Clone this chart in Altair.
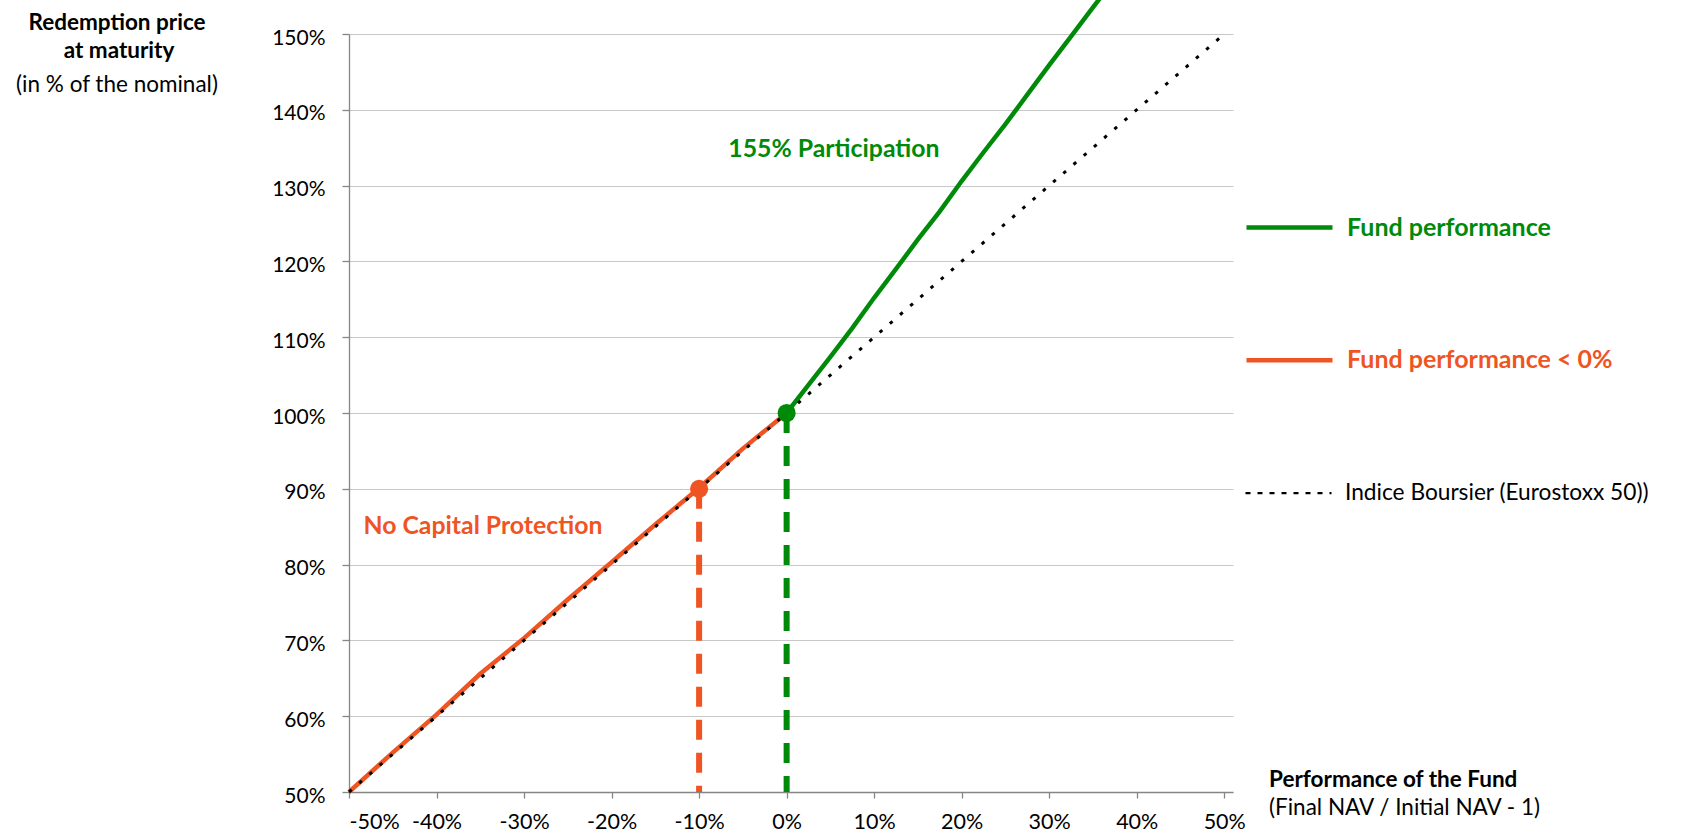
import altair as alt
import pandas as pd

# ---------------- data ----------------
x_ticks = [-50, -40, -30, -20, -10, 0, 10, 20, 30, 40, 50]
y_ticks = [50, 60, 70, 80, 90, 100, 110, 120, 130, 140, 150]

index_name = "Indice Boursier (Eurostoxx 50))"
index_x = [-50, 50]
index_y = [50, 150]

neg_name = "Fund performance < 0%"
neg_x = [-50, -45, -40, -35, -30, -25, -20, -15, -10, -5, 0]
neg_y = [50, 55.2, 60.2, 65.6, 70.3, 75.4, 80.3, 85.3, 90.1, 95.3, 100]

pos_name = "Fund performance"
pos_x = [0, 2.5, 5, 7.5, 10, 12.5, 15, 17.5, 20, 22.5, 25, 27.5, 30, 32.5, 35, 37.5]
pos_y = [100, 103.7, 107.4, 111.2, 115.2, 119.0, 122.9, 126.6, 130.6, 134.4,
         138.1, 142.0, 145.9, 149.7, 153.5, 157.3]

marker_x = [-10, 0]
marker_y = [90, 100]
floor_value = 50

annotation_texts = ["155% Participation", "No Capital Protection"]
annotation_x = [5.4, -34.7]
annotation_y = [134.7, 84.9]

y_title_lines = ["Redemption price", "at maturity", "(in % of the nominal)"]
x_title_lines = ["Performance of the Fund", "(Final NAV / Initial NAV - 1)"]

# ---------------- styles ----------------
GREEN = "#008A0A"
ORANGE = "#EF5523"
FONT = "Lato"
W, H = 884, 758

xs = alt.Scale(domain=[-50, 51], nice=False, zero=False)
ys = alt.Scale(domain=[50, 150], nice=False, zero=False)
X_AX = alt.Axis(values=x_ticks, labelExpr="datum.value + '%'", grid=False, title=None)
Y_AX = alt.Axis(values=y_ticks, labelExpr="datum.value + '%'", grid=True, title=None)


def X(field="x"):
    return alt.X(f"{field}:Q", scale=xs, axis=X_AX)


def Y(field="y"):
    return alt.Y(f"{field}:Q", scale=ys, axis=Y_AX)


def legend(ly, color, weight, size, width, dash=None):
    kw = dict(orient="none", legendX=895, legendY=ly, title=None, symbolType="stroke",
              symbolSize=7396, symbolStrokeWidth=width, symbolStrokeColor=color,
              labelColor=color, labelFontWeight=weight, labelFont=FONT,
              labelFontSize=size, labelOffset=12, labelLimit=0, padding=0)
    if dash:
        kw["symbolDash"] = dash
    return alt.Legend(**kw)


idx_df = pd.DataFrame({"x": index_x, "y": index_y, "series": index_name})
neg_df = pd.DataFrame({"x": neg_x, "y": neg_y, "series": neg_name})
pos_df = pd.DataFrame({"x": pos_x, "y": pos_y, "series": pos_name})

neg_line = alt.Chart(neg_df).mark_line(strokeWidth=4.5).encode(
    x=X(), y=Y(),
    color=alt.Color("series:N", scale=alt.Scale(domain=[neg_name], range=[ORANGE]),
                    legend=legend(280.7, ORANGE, "bold", 25, 4.5)),
)
pos_line = alt.Chart(pos_df).mark_line(strokeWidth=4.5).encode(
    x=X(), y=Y(),
    color=alt.Color("series:N", scale=alt.Scale(domain=[pos_name], range=[GREEN]),
                    legend=legend(148, GREEN, "bold", 25, 4.5)),
)
idx_line = alt.Chart(idx_df).mark_line(strokeWidth=3, strokeDash=[3.5, 10]).encode(
    x=X(), y=Y(),
    color=alt.Color("series:N", scale=alt.Scale(domain=[index_name], range=["#000000"]),
                    legend=legend(414.7, "#000000", "normal", 22.7, 2.2, [5, 7])),
)

markers = []
for i, col in enumerate([ORANGE, GREEN]):
    mdf = pd.DataFrame({"x": [marker_x[i]], "y": [marker_y[i]], "base": [floor_value]})
    rule = alt.Chart(mdf).mark_rule(strokeWidth=6, strokeDash=[20, 13], color=col).encode(
        x=X(), y=Y(), y2="base:Q")
    pt = alt.Chart(mdf).mark_circle(size=330, opacity=1, color=col).encode(x=X(), y=Y())
    markers += [rule, pt]

annots = []
for i, col in enumerate([GREEN, ORANGE]):
    adf = pd.DataFrame({"x": [annotation_x[i]], "y": [annotation_y[i]], "t": [annotation_texts[i]]})
    annots.append(alt.Chart(adf).mark_text(font=FONT, fontSize=24.8, fontWeight="bold", color=col,
                                           baseline="middle", align="center").encode(
        x=X(), y=Y(), text="t:N"))


def title_text(line, px, py, weight, align):
    tdf = pd.DataFrame({"t": [line]})
    return alt.Chart(tdf).mark_text(font=FONT, fontSize=22.5, fontWeight=weight, color="#000000",
                                    align=align, baseline="alphabetic").encode(
        x=alt.value(px), y=alt.value(py), text="t:N")


titles = [
    title_text(y_title_lines[0], -232, -4, "bold", "center"),
    title_text(y_title_lines[1], -230, 24, "bold", "center"),
    title_text(y_title_lines[2], -232, 58, "normal", "center"),
    title_text(x_title_lines[0], 920, 753, "bold", "left"),
    title_text(x_title_lines[1], 920, 781, "normal", "left"),
]

chart = alt.layer(neg_line, pos_line, idx_line, *markers, *annots, *titles).resolve_scale(
    color="independent"
).properties(
    width=W, height=H,
    autosize=alt.AutoSizeParams(type="none"),
    padding={"left": 349, "top": 34, "right": 450, "bottom": 41},
    background="white",
).configure_view(stroke=None).configure_axis(
    labelFont=FONT, labelColor="#000000",
    domainColor="#868686", tickColor="#868686", gridColor="#C8C8C8",
    domainWidth=1.3, tickWidth=1.3, gridWidth=1.2,
).configure_axisX(tickSize=6, labelPadding=13, labelFontSize=21.5).configure_axisY(
    tickSize=7, labelPadding=17, labelFontSize=21, labelOffset=4)

chart.save("out.html", embed_options={"renderer": "svg", "actions": False})
